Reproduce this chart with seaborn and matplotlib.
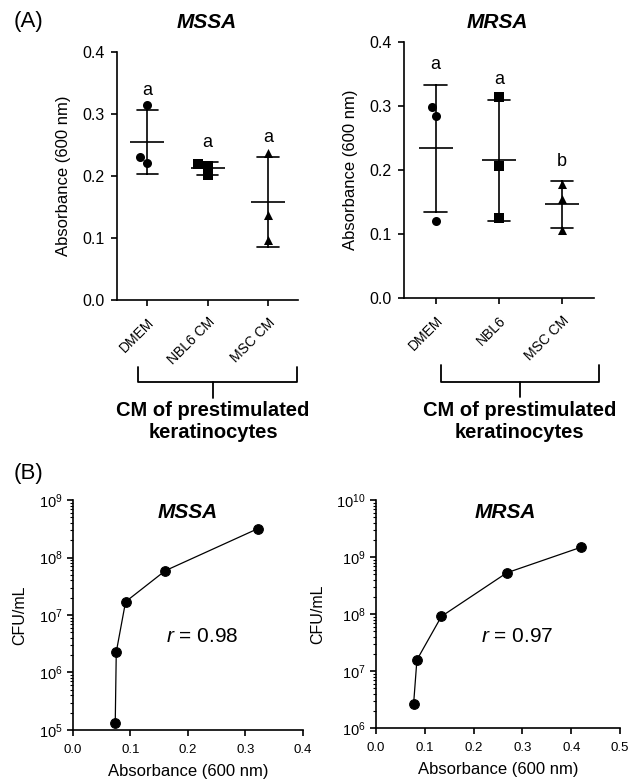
import numpy as np
import pandas as pd
import seaborn as sns
import matplotlib.pyplot as plt

# ---- panel A data (absorbance at 600 nm, three replicates per group)
mssa_groups = ['DMEM', 'NBL6 CM', 'MSC CM']
mssa_dmem = [0.314, 0.221, 0.230]
mssa_nbl6 = [0.201, 0.217, 0.2197]
mssa_msc = [0.238, 0.137, 0.097]
mssa_letters = ['a', 'a', 'a']

mrsa_groups = ['DMEM', 'NBL6', 'MSC CM']
mrsa_dmem = [0.298, 0.285, 0.1205]
mrsa_nbl6 = [0.314, 0.206, 0.126]
mrsa_msc = [0.178, 0.155, 0.107]
mrsa_letters = ['a', 'a', 'b']

group_markers = ['o', 's', '^']

# ---- panel B data (standard curves)
mssa_od = [0.0736, 0.0754, 0.0916, 0.1606, 0.3223]
mssa_cfu = [1.3e5, 2.27e6, 1.7e7, 5.9e7, 3.2e8]
mrsa_od = [0.077, 0.0838, 0.134, 0.268, 0.420]
mrsa_cfu = [2.64e6, 1.57e7, 9.1e7, 5.3e8, 1.49e9]

sns.set_style('ticks')
plt.rcParams['font.family'] = ['Liberation Sans', 'DejaVu Sans']
plt.rcParams['mathtext.fontset'] = 'custom'
plt.rcParams['mathtext.rm'] = 'Liberation Sans'
plt.rcParams['mathtext.it'] = 'Liberation Sans:italic'
plt.rcParams['mathtext.bf'] = 'Liberation Sans:bold'
for key in ['text.color', 'axes.labelcolor', 'xtick.color', 'ytick.color', 'axes.edgecolor']:
    plt.rcParams[key] = 'black'
plt.rcParams['axes.linewidth'] = 1.2
plt.rcParams['xtick.major.width'] = 1.2
plt.rcParams['ytick.major.width'] = 1.2
plt.rcParams['xtick.major.size'] = 4
plt.rcParams['ytick.major.size'] = 4


def make_df(groups, values):
    rows = []
    for g, vals in zip(groups, values):
        for v in vals:
            rows.append({'group': g, 'od': v})
    return pd.DataFrame(rows)


def dot_panel(ax, groups, values, letters):
    df = make_df(groups, values)
    for g, m in zip(groups, group_markers):
        sns.swarmplot(data=df[df['group'] == g], x='group', y='od', order=groups,
                      marker=m, color='k', size=6.5, ax=ax)
    # mean line
    sns.pointplot(data=df, x='group', y='od', order=groups, errorbar=None,
                  linestyle='none', marker='_', markersize=24, markeredgewidth=1.2,
                  color='k', ax=ax)
    # SD whiskers
    sns.pointplot(data=df, x='group', y='od', order=groups, errorbar='sd',
                  capsize=0.35, linestyle='none', marker='', color='k',
                  err_kws={'linewidth': 1.2}, ax=ax)
    for i, (vals, lt) in enumerate(zip(values, letters)):
        top = np.mean(vals) + np.std(vals, ddof=1)
        ax.text(i, top + 0.018, lt, ha='center', va='bottom', fontsize=13)
    ax.set_ylim(0, 0.4)
    ax.set_xlim(-0.5, 2.5)
    ax.set_yticks([0.0, 0.1, 0.2, 0.3, 0.4])
    ax.set_yticklabels(['0.0', '0.1', '0.2', '0.3', '0.4'], fontsize=11.5)
    ax.set_xticks(range(len(groups)))
    ax.set_xticklabels(groups, rotation=45, ha='right', rotation_mode='anchor', fontsize=10)
    ax.tick_params(axis='x', pad=7)
    ax.tick_params(axis='y', pad=5)
    ax.set_xlabel('')
    ax.set_ylabel('Absorbance (600 nm)', fontsize=12, labelpad=8)
    sns.despine(ax=ax)


def brace(ax, x0, x1, xc, ytop, ymid, ytip, ytext):
    kw = dict(transform=ax.transAxes, clip_on=False, color='k', lw=1.3)
    ax.plot([x0, x0, x1, x1], [ytop, ymid, ymid, ytop], **kw)
    ax.plot([xc, xc], [ymid, ytip], **kw)
    ax.text(xc, ytext, 'CM of prestimulated\nkeratinocytes', transform=ax.transAxes,
            ha='center', va='top', fontsize=14.5, fontweight='bold', linespacing=1.2)


def curve_panel(ax, od, cfu, ylim, xmax):
    ax.set_yscale('log')
    sns.lineplot(x=od, y=cfu, ax=ax, marker='o', markersize=7, color='k',
                 linewidth=0.9, markeredgecolor='k', sort=False)
    ax.set_ylim(*ylim)
    ax.set_xlim(0, xmax)
    ticks = np.arange(0, xmax + 0.01, 0.1)
    ax.set_xticks(ticks)
    ax.set_xticklabels(['%.1f' % t for t in ticks], fontsize=9.5)
    ax.tick_params(axis='x', pad=6)
    ax.tick_params(axis='y', labelsize=10.5)
    ax.tick_params(axis='y', which='minor', length=2, width=0.8)
    ax.set_xlabel('Absorbance (600 nm)', fontsize=12, labelpad=6)
    ax.set_ylabel('CFU/mL', fontsize=11.5, labelpad=8)
    sns.despine(ax=ax)


fig = plt.figure(figsize=(6.4, 7.79), dpi=100)

axA1 = fig.add_axes([0.183, 0.615, 0.283, 0.318])
axA2 = fig.add_axes([0.631, 0.617, 0.297, 0.329])
axB1 = fig.add_axes([0.114, 0.063, 0.359, 0.295])
axB2 = fig.add_axes([0.5875, 0.0655, 0.3815, 0.2925])

dot_panel(axA1, mssa_groups, [mssa_dmem, mssa_nbl6, mssa_msc], mssa_letters)
dot_panel(axA2, mrsa_groups, [mrsa_dmem, mrsa_nbl6, mrsa_msc], mrsa_letters)

brace(axA1, 0.116, 0.994, 0.53, -0.27, -0.33, -0.395, -0.41)
brace(axA2, 0.195, 1.026, 0.61, -0.26, -0.325, -0.385, -0.40)

curve_panel(axB1, mssa_od, mssa_cfu, (1e5, 1e9), 0.4)
curve_panel(axB2, mrsa_od, mrsa_cfu, (1e6, 1e10), 0.5)

fig.text(0.022, 1 - 22 / 779, '(A)', fontsize=16, ha='left', va='center')
fig.text(0.022, 1 - 473 / 779, '(B)', fontsize=16, ha='left', va='center')

title_kw = dict(fontsize=15, fontweight='bold', style='italic', ha='center', va='center')
fig.text(207 / 640, 1 - 23 / 779, 'MSSA', **title_kw)
fig.text(497 / 640, 1 - 23 / 779, 'MRSA', **title_kw)
fig.text(188 / 640, 1 - 512 / 779, 'MSSA', **title_kw)
fig.text(505 / 640, 1 - 512 / 779, 'MRSA', **title_kw)

fig.text(202 / 640, 1 - 637 / 779, '$r$ = 0.98', fontsize=15, ha='center', va='center')
fig.text(517 / 640, 1 - 637 / 779, '$r$ = 0.97', fontsize=15, ha='center', va='center')

fig.savefig('out.png', dpi=100)
